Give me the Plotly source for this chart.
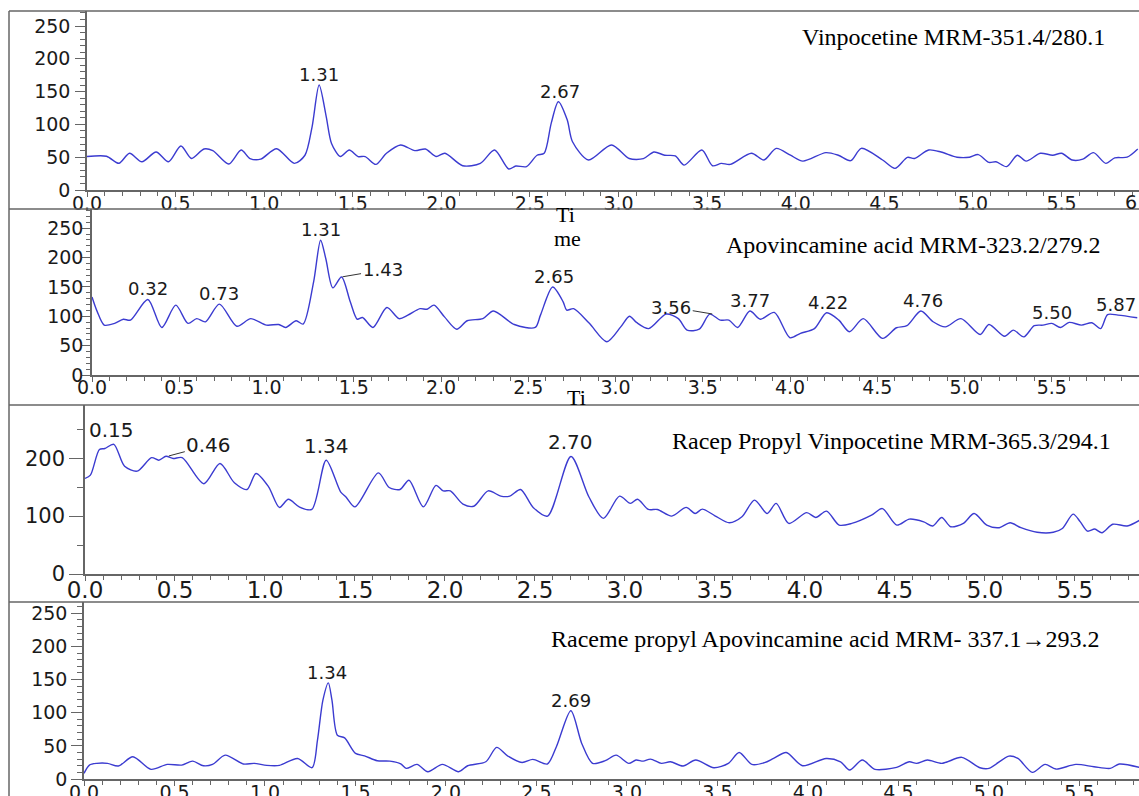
import numpy as np
import plotly.graph_objects as go

W, H = 1139, 796

# ---------------- data (retention time [min], intensity) ----------------
vin_t = [0.00, 0.11, 0.18, 0.24, 0.31, 0.39, 0.46, 0.53, 0.59, 0.66, 0.71, 0.80, 0.87, 0.92, 0.98,
         1.07, 1.17, 1.23, 1.27, 1.31, 1.35, 1.38, 1.43, 1.48, 1.53, 1.57, 1.63, 1.69, 1.77, 1.85,
         1.91, 1.97, 2.02, 2.12, 2.22, 2.30, 2.38, 2.42, 2.48, 2.54, 2.58, 2.62, 2.66, 2.71, 2.74,
         2.83, 2.96, 3.06, 3.14, 3.20, 3.26, 3.32, 3.37, 3.47, 3.53, 3.58, 3.63, 3.75, 3.82, 3.89,
         3.97, 4.04, 4.17, 4.24, 4.31, 4.37, 4.49, 4.56, 4.63, 4.67, 4.75, 4.82, 4.91, 4.98, 5.03,
         5.09, 5.13, 5.19, 5.25, 5.30, 5.38, 5.45, 5.50, 5.56, 5.62, 5.68, 5.75, 5.80, 5.87, 5.93]
vin_i = [51, 51.5, 40.7, 56, 43, 58, 43, 67, 48, 62.5, 60, 39.6, 61, 48, 47,
         63, 40.6, 53, 96, 160, 112, 71, 51, 61, 51, 51, 39, 56, 68.6, 60,
         62.5, 51, 56, 37, 40.6, 61, 32, 36.6, 35.6, 53, 56, 102, 134.6, 107, 73.6,
         45.7, 68.6, 48, 47.8, 58, 53, 52, 38, 61, 37, 40.6, 39, 56, 45.7, 63.5,
         53, 44, 57, 53, 44.7, 63.5, 45.7, 33, 49.8, 48, 61, 58, 50, 50, 54,
         42, 43, 35.6, 53, 44, 56, 53, 56, 45.7, 47, 57, 40.6, 49, 50, 62.5]

apo_t = [0.00, 0.03, 0.07, 0.13, 0.18, 0.22, 0.32, 0.40, 0.48, 0.55, 0.60, 0.65, 0.73, 0.83, 0.91,
         1.00, 1.07, 1.11, 1.17, 1.21, 1.27, 1.31, 1.34, 1.38, 1.43, 1.48, 1.52, 1.55, 1.61, 1.69,
         1.76, 1.81, 1.88, 1.92, 1.96, 2.02, 2.09, 2.15, 2.24, 2.30, 2.42, 2.54, 2.57, 2.64, 2.70,
         2.72, 2.76, 2.85, 2.95, 3.03, 3.08, 3.12, 3.19, 3.29, 3.36, 3.41, 3.48, 3.54, 3.60, 3.65,
         3.70, 3.77, 3.83, 3.91, 4.00, 4.06, 4.14, 4.21, 4.28, 4.34, 4.42, 4.53, 4.61, 4.67, 4.75,
         4.82, 4.89, 4.98, 5.09, 5.14, 5.23, 5.28, 5.34, 5.40, 5.45, 5.50, 5.55, 5.60, 5.67, 5.73,
         5.78, 5.82, 5.88, 5.99]
apo_i = [133, 108, 85, 88, 95, 93.5, 128.7, 81, 119, 88, 96, 90.6, 120.7, 83, 96,
         85, 86, 81, 92.4, 86.7, 158.7, 229.6, 198, 148.5, 167, 124.7, 95, 98, 81, 115,
         96, 102, 113, 112, 119, 99, 78, 92.4, 96, 109, 86, 81, 102, 150, 124.7,
         110.5, 113, 88, 56.7, 82, 100, 89.6, 79, 103.7, 96, 76.5, 78, 103.7, 93.5, 93.5,
         81, 109, 95, 106.6, 63.5, 71, 79, 106, 93.5, 73.7, 96, 62.4, 80.5, 84, 109,
         90.7, 82, 96, 69, 86, 66, 76.5, 65, 84, 85, 88, 81, 89.6, 85, 89,
         79, 103, 102, 97.5]

rpv_t = [0.00, 0.03, 0.08, 0.11, 0.16, 0.22, 0.29, 0.37, 0.41, 0.45, 0.49, 0.54, 0.66, 0.75, 0.83,
         0.90, 0.95, 1.02, 1.08, 1.13, 1.19, 1.26, 1.34, 1.42, 1.45, 1.50, 1.63, 1.69, 1.75, 1.80,
         1.88, 1.95, 1.99, 2.03, 2.10, 2.16, 2.24, 2.31, 2.36, 2.42, 2.49, 2.57, 2.70, 2.80, 2.88,
         2.97, 3.03, 3.07, 3.13, 3.18, 3.26, 3.34, 3.39, 3.43, 3.50, 3.58, 3.65, 3.72, 3.79, 3.84,
         3.91, 4.01, 4.06, 4.12, 4.19, 4.26, 4.37, 4.43, 4.51, 4.58, 4.66, 4.71, 4.76, 4.81, 4.88,
         4.94, 5.01, 5.08, 5.14, 5.20, 5.29, 5.38, 5.43, 5.49, 5.53, 5.57, 5.61, 5.65, 5.71, 5.79,
         5.86]
rpv_i = [165, 170.7, 215, 216.7, 224, 186, 177.6, 201, 196.5, 203.4, 199.5, 201, 156, 190.8, 157.5,
         146, 173.6, 150.6, 115, 129, 116, 111.5, 196.5, 142, 133, 116, 174.7, 149.4, 146, 162,
         116, 153, 143.6, 143.6, 120.7, 117, 143.6, 134.5, 134.5, 146, 115, 100, 203, 133, 96,
         134.5, 122, 129, 111.5, 111.5, 100, 115, 104.6, 112, 100.6, 88.5, 98.8, 127.6, 104.6, 122,
         87.4, 106, 97.7, 108.6, 84.5, 87.4, 101.7, 113, 84.5, 94.8, 90, 83, 97.7, 81.6, 87.4,
         104.6, 84.5, 80, 88.5, 80, 72, 72, 78.7, 103.4, 90, 74, 77.6, 71.3, 86, 83,
         93]

rpa_t = [0.00, 0.03, 0.07, 0.13, 0.19, 0.27, 0.37, 0.46, 0.54, 0.60, 0.66, 0.71, 0.78, 0.88, 0.94,
         1.01, 1.08, 1.18, 1.26, 1.29, 1.32, 1.35, 1.37, 1.40, 1.44, 1.50, 1.55, 1.62, 1.69, 1.75,
         1.78, 1.84, 1.90, 1.98, 2.07, 2.12, 2.22, 2.28, 2.34, 2.42, 2.48, 2.56, 2.61, 2.69, 2.75,
         2.81, 2.88, 2.94, 3.01, 3.05, 3.09, 3.13, 3.19, 3.24, 3.31, 3.38, 3.48, 3.56, 3.62, 3.69,
         3.76, 3.81, 3.88, 3.97, 4.10, 4.18, 4.23, 4.30, 4.37, 4.49, 4.56, 4.60, 4.66, 4.74, 4.85,
         4.95, 5.00, 5.11, 5.16, 5.24, 5.31, 5.37, 5.48, 5.58, 5.67, 5.72, 5.83]
rpa_i = [8.5, 21, 23.6, 23.6, 19.6, 33.6, 14.6, 22, 21, 27, 20, 22, 36, 22.6, 23.6,
         20.6, 20.6, 31, 17, 58.7, 119, 145, 119, 66, 62, 38.7, 35, 27.6, 27, 23,
         16, 22, 11, 22, 11, 20, 26, 47.7, 35, 25, 29.6, 22.6, 48.7, 103, 53.7,
         23.6, 27.6, 36, 23.6, 28.6, 27, 30, 23.6, 26, 19.6, 28.6, 17, 23.6, 40, 22,
         24.6, 31, 40, 20, 31, 26, 13.6, 28.6, 14.6, 17.6, 26, 23.6, 28.6, 23.6, 32.7,
         17, 16, 34.6, 31, 10, 22, 15, 22, 18.5, 16, 22.6, 17.6]

vin_peaks = [1.31, 2.67]
apo_peaks = [0.32, 0.73, 1.31, 1.43, 2.65, 3.56, 3.77, 4.22, 4.76, 5.50, 5.87]
rpv_peaks = [0.15, 0.46, 1.34, 2.70]
rpa_peaks = [1.34, 2.69]

titles = ["Vinpocetine MRM-351.4/280.1",
          "Apovincamine acid MRM-323.2/279.2",
          "Racep Propyl Vinpocetine MRM-365.3/294.1",
          "Raceme propyl Apovincamine acid MRM- 337.1\u2192293.2"]

# ---------------- layout helpers ----------------
def X(px):
    return px / W


def Y(py):
    return 1 - py / H


LINE = "#3b3bd0"
AX = "#666666"
TXT = "#1a1a1a"
SANS = "DejaVu Sans"
SERIF = "Liberation Serif"

panels = [
    dict(t=vin_t, i=vin_i, peaks=vin_peaks, title=titles[0], left=87, bottom=190, top=11,
         xmax=5.937, ymax=272.9, ydt=50, ymin=10, yfs=19, xfs=19, pfs=18, ylen=10, yminlen=5,
         ystand=1, xstand=-10, tr=1107, tm=37, leaders={}, pshift=-2),
    dict(t=apo_t, i=apo_i, peaks=apo_peaks, title=titles[1], left=92, bottom=375, top=209,
         xmax=6.0, ymax=282.8, ydt=50, ymin=10, yfs=19, xfs=19, pfs=18, ylen=8, yminlen=4,
         ystand=-5, xstand=-11, tr=1103, tm=245, leaders={1.43: (41, -7), 3.56: (-42, -7)}, pshift=-2),
    dict(t=rpv_t, i=rpv_i, peaks=rpv_peaks, title=titles[2], left=85, bottom=574, top=405,
         xmax=5.856, ymax=291.9, ydt=100, ymin=50, yfs=21, xfs=23, pfs=20, ylen=14, yminlen=6,
         ystand=0, xstand=-10, tr=1113, tm=441, leaders={0.46: (41, -11)}, pshift=0),
    dict(t=rpa_t, i=rpa_i, peaks=rpa_peaks, title=titles[3], left=84, bottom=779, top=602,
         xmax=5.829, ymax=267.1, ydt=50, ymin=10, yfs=19, xfs=19, pfs=18, ylen=11, yminlen=5,
         ystand=0, xstand=-10, tr=1102, tm=639, leaders={}, pshift=-2),
]

fig = go.Figure()
annotations = []
layout = {}

for k, p in enumerate(panels, start=1):
    xa = "x" if k == 1 else f"x{k}"
    ya = "y" if k == 1 else f"y{k}"
    fig.add_trace(go.Scatter(x=p["t"], y=p["i"], mode="lines", xaxis=xa, yaxis=ya,
                             line=dict(color=LINE, width=1.4, shape="spline", smoothing=0.8),
                             hoverinfo="skip", showlegend=False))
    layout["xaxis" if k == 1 else f"xaxis{k}"] = dict(
        domain=[X(p["left"]), 1], range=[0, p["xmax"]], anchor=ya, automargin=False,
        showline=True, linecolor=AX, linewidth=1.5, showgrid=False, zeroline=False,
        ticks="outside", ticklen=5, tickwidth=1, tickcolor=AX, dtick=0.5, tick0=0,
        tickformat=".1f", tickfont=dict(family=SANS, size=p["xfs"], color=TXT),
        ticklabelstandoff=p["xstand"],
        minor=dict(dtick=0.1, ticklen=4, tickwidth=1, tickcolor=AX, ticks="outside"),
        fixedrange=True)
    layout["yaxis" if k == 1 else f"yaxis{k}"] = dict(
        domain=[Y(p["bottom"]), Y(p["top"])], range=[0, p["ymax"]], anchor=xa, automargin=False,
        showline=True, linecolor=AX, linewidth=1.5, showgrid=False, zeroline=False,
        ticks="outside", ticklen=p["ylen"], tickwidth=1, tickcolor=AX, dtick=p["ydt"], tick0=0,
        tickfont=dict(family=SANS, size=p["yfs"], color=TXT), ticklabelstandoff=p["ystand"],
        minor=dict(dtick=p["ymin"], ticklen=p["yminlen"], tickwidth=1, tickcolor=AX, ticks="outside"),
        fixedrange=True)

    tt = np.array(p["t"])
    ii = np.array(p["i"])
    for rt in p["peaks"]:
        sel = np.abs(tt - rt) <= 0.04
        h = float(ii[sel].max()) if sel.any() else float(np.interp(rt, tt, ii))
        lab = f"{rt:.2f}"
        if rt in p["leaders"]:
            ax, ay = p["leaders"][rt]
            annotations.append(dict(x=rt, y=h, xref=xa, yref=ya, text=lab, showarrow=True,
                                    arrowhead=0, arrowwidth=1, arrowcolor="#333", ax=ax, ay=ay,
                                    standoff=1, font=dict(family=SANS, size=p["pfs"], color=TXT)))
        else:
            annotations.append(dict(x=rt, y=h, xref=xa, yref=ya, text=lab, showarrow=False,
                                    xanchor="center", yanchor="bottom", yshift=p["pshift"],
                                    font=dict(family=SANS, size=p["pfs"], color=TXT)))
    annotations.append(dict(x=X(p["tr"]), y=Y(p["tm"]), xref="paper", yref="paper",
                            text=p["title"], showarrow=False, xanchor="right", yanchor="middle",
                            font=dict(family=SERIF, size=24, color="black")))

# cut-off "6" label at the right edge of the first panel
annotations.append(dict(x=1, y=Y(202), xref="paper", yref="paper", text="6", showarrow=False,
                        xanchor="right", yanchor="middle",
                        font=dict(family=SANS, size=19, color=TXT)))
# stray fragments of the "Time" axis title
for txt, px, py in [("Ti", 565, 214), ("me", 567, 238), ("Ti", 576, 397)]:
    annotations.append(dict(x=X(px), y=Y(py), xref="paper", yref="paper", text=txt,
                            showarrow=False, xanchor="center", yanchor="middle",
                            font=dict(family=SERIF, size=22, color="black")))

shapes = [
    dict(type="line", xref="paper", yref="paper", x0=X(9), x1=1, y0=Y(11), y1=Y(11),
         line=dict(color=AX, width=1.5)),
    dict(type="line", xref="paper", yref="paper", x0=X(9), x1=X(9), y0=Y(11), y1=0,
         line=dict(color=AX, width=1.5)),
]
for py in (209, 405, 602):
    shapes.append(dict(type="line", xref="paper", yref="paper", x0=X(9), x1=1, y0=Y(py), y1=Y(py),
                       line=dict(color=AX, width=1.5)))

fig.update_layout(width=W, height=H, margin=dict(l=0, r=0, t=0, b=0, autoexpand=False),
                  paper_bgcolor="white", plot_bgcolor="white",
                  annotations=annotations, shapes=shapes, **layout)

fig.write_html("out.html", config={"displayModeBar": False},
               post_script="document.body.style.margin='0';document.body.style.overflow='hidden';")
